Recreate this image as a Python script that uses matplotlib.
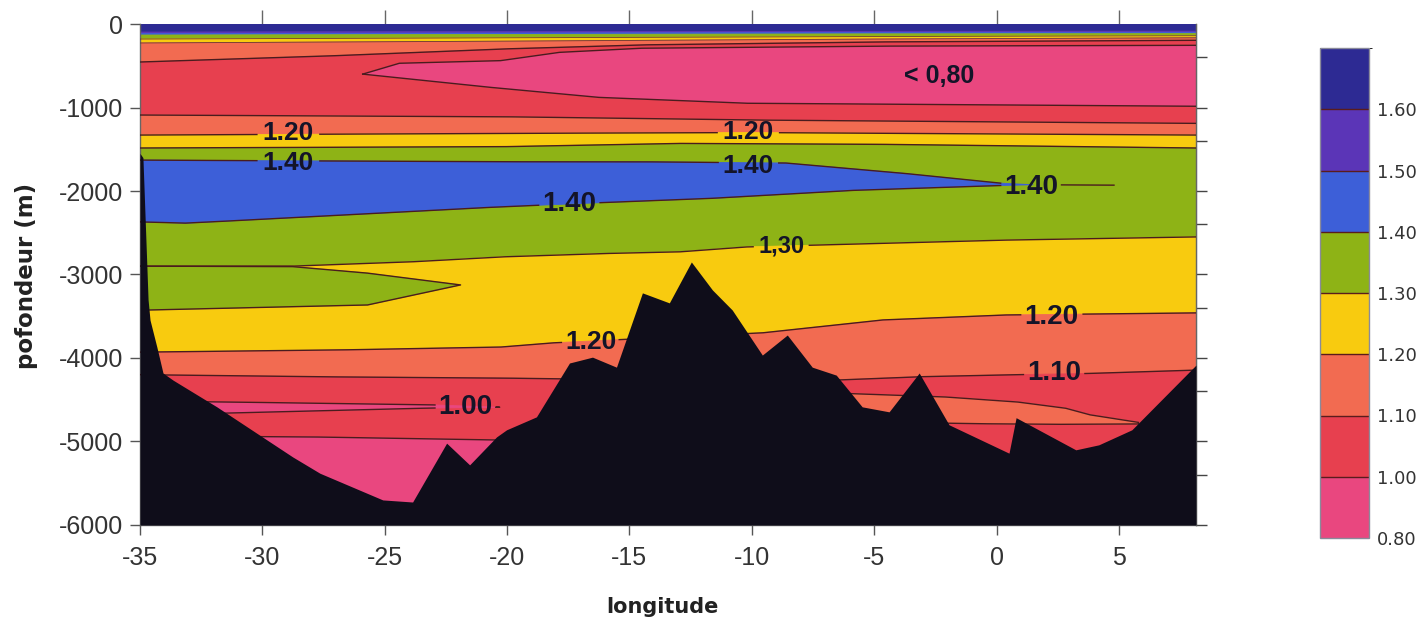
import numpy as np
import matplotlib
matplotlib.use("Agg")
import matplotlib.pyplot as plt
from matplotlib.colors import ListedColormap, BoundaryNorm
from matplotlib.cm import ScalarMappable

plt.rcParams["axes.unicode_minus"] = False
plt.rcParams["font.family"] = ["Liberation Sans", "DejaVu Sans"]

XMIN, XMAX = -35.0, 8.15
ZTOP, ZBOT = 0, -6000

# ---- colour classes -------------------------------------------------------
levels = [0.80, 1.00, 1.10, 1.20, 1.30, 1.40, 1.50, 1.60, 1.70]
level_labels = ["0.80", "1.00", "1.10", "1.20", "1.30", "1.40", "1.50", "1.60"]
class_colors = ["#e9477f", "#e7404f", "#f26b51", "#f8cb0f", "#8eb316",
                "#3d5fd8", "#5b35b7", "#2d2a93"]
PINK, RED, SALMON, YELLOW, GREEN, BLUE, PURPLE, NAVY = class_colors

# ---- axes ticks -----------------------------------------------------------
xticks = [-35, -30, -25, -20, -15, -10, -5, 0, 5]
top_ticks = [-30, -25, -20, -15, -10, -5, 0, 5]
yticks = [-6000, -5000, -4000, -3000, -2000, -1000, 0]
right_ticks = [-400, -1000, -1400, -2000, -2400, -3000, -3400,
               -4000, -4400, -5000, -5400, -6000]

# ---- isolines (longitude, depth in m) -----------------------------------
surf_lon = [-35, -20, -5, 8.15]
iso160_a = [-96, -92, -88, -85]
iso150_a = [-115, -108, -102, -100]
iso140_a = [-132, -125, -118, -115]
iso130_a = [-180, -165, -150, -140]
iso120_a = [-227, -205, -180, -165]

iso110_a_lon = [-35, -27.5, -20.3, -14.5, -5, 8.15]
iso110_a_dep = [-455, -385, -300, -250, -215, -195]

pink_top_lon = [-25.9, -24.4, -20.3, -17.9, -14.5, -5, 8.15]
pink_top_dep = [-600, -470, -440, -340, -290, -265, -255]
pink_bot_lon = [8.15, -4, -10.1, -16.2, -20.3, -25.9]
pink_bot_dep = [-985, -960, -950, -880, -770, -600]

iso110_b_lon = [-35, -20.3, -10, 8.15]
iso110_b_dep = [-1090, -1110, -1150, -1190]
iso120_b_lon = [-35, -20.3, -10, 8.15]
iso120_b_dep = [-1330, -1310, -1300, -1330]
iso130_b_lon = [-35, -20.3, -13, -5, 8.15]
iso130_b_dep = [-1485, -1470, -1430, -1440, -1485]

blue_top_lon = [-35, -20.3, -14.6, -8.6, -3.9, 0.1, 1.5]
blue_top_dep = [-1630, -1650, -1650, -1665, -1785, -1905, -1925]
blue_bot_lon = [1.5, 0.1, -5.7, -11.4, -16.2, -20.3, -28.1, -33.1, -35]
blue_bot_dep = [-1925, -1935, -1990, -2085, -2140, -2190, -2310, -2385, -2370]
blue_tail_lon = [1.5, 4.8]
blue_tail_dep = [-1925, -1930]

iso130_c_lon = [-35, -28.8, -24, -20.3, -16.2, -13, -10.2, 0, 8.15]
iso130_c_dep = [-2900, -2900, -2850, -2790, -2750, -2730, -2670, -2590, -2550]

gtongue_lon = [-35, -28.8, -25.8, -21.9, -25.7, -34.6, -35]
gtongue_dep = [-2900, -2905, -2980, -3125, -3365, -3425, -3425]

iso120_c_lon = [-35, -27.1, -20.3, -18.2, -14, -9.6, -4.7, 0.3, 8.15]
iso120_c_dep = [-3930, -3905, -3870, -3820, -3760, -3700, -3545, -3485, -3460]
iso110_c_lon = [-35, -27.8, -20.3, -18, -6.6, -3.2, 0.8, 3.8, 8.15]
iso110_c_dep = [-4200, -4225, -4240, -4250, -4265, -4225, -4200, -4185, -4145]

plens_top_lon = [-33.5, -32, -23.2, -20.3]
plens_top_dep = [-4520, -4525, -4560, -4590]
plens_bot_lon = [-20.3, -23.2, -31.3, -33.5]
plens_bot_dep = [-4590, -4600, -4660, -4670]

pdeep_lon = [-31.0, -28.1, -20.6, -19.5]
pdeep_dep = [-4940, -4945, -4980, -4990]

slens_top_lon = [-6.6, -2.2, 0.8, 2.8, 3.8, 5.8]
slens_top_dep = [-4420, -4465, -4525, -4600, -4680, -4770]
slens_bot_lon = [5.8, 3.0, 0.0, -2.0, -6.6]
slens_bot_dep = [-4790, -4795, -4790, -4780, -4780]

# ---- sea floor --------------------------------------------------------------
bathy_lon = [-35.0, -34.88, -34.67, -34.59, -34.31, -34.06, -33.65, -31.86,
             -29.82, -28.76, -27.65, -25.08, -23.86, -22.47, -21.53, -20.43,
             -20.02, -18.80, -17.45, -16.51, -15.53, -14.47, -13.37, -12.47,
             -11.61, -10.80, -9.57, -8.55, -7.53, -6.55, -5.49, -4.39, -3.16,
             -1.94, 0.51, 0.80, 3.24, 4.18, 5.53, 8.15]
bathy_dep = [-1550, -1600, -3300, -3545, -3870, -4180, -4265, -4585,
             -4980, -5185, -5380, -5700, -5725, -5020, -5280, -4945,
             -4860, -4705, -4060, -3990, -4110, -3220, -3340, -2850,
             -3185, -3425, -3965, -3725, -4110, -4205, -4585, -4645, -4180,
             -4800, -5140, -4715, -5100, -5040, -4860, -4085]

# ---- contour labels ---------------------------------------------------------
label_text = ["1.20", "1.40", "< 0,80", "1.20", "1.40", "1.40", "1.40",
              "1,30", "1.20", "1.20", "1.10", "1.00"]
label_lon = [-28.96, -28.96, -2.35, -10.14, -10.14, -17.45, 1.41,
             -8.80, -16.59, 2.22, 2.35, -21.69]
label_dep = [-1305, -1665, -623, -1290, -1700, -2156, -1952,
             -2659, -3808, -3509, -4180, -4587]
label_size = [19, 19, 18, 19, 19, 20, 20, 17, 19, 20, 20, 20]

# ---------------------------------------------------------------------------
fig = plt.figure(figsize=(14.27, 6.19), dpi=100)
ax = fig.add_axes([0.0981, 0.1519, 0.7400, 0.8093])
ax.set_xlim(XMIN, XMAX)
ax.set_ylim(ZBOT, ZTOP)


def poly(lons, deps, color):
    ax.fill(lons, deps, facecolor=color, edgecolor=color, lw=0.6, zorder=1)


def band(up_lon, up_dep, lo_lon, lo_dep, color):
    poly(list(up_lon) + list(lo_lon)[::-1], list(up_dep) + list(lo_dep)[::-1], color)


edge_lon = [XMIN, XMAX]
band(edge_lon, [ZTOP, ZTOP], surf_lon, iso160_a, NAVY)
band(surf_lon, iso160_a, surf_lon, iso150_a, PURPLE)
band(surf_lon, iso150_a, surf_lon, iso140_a, BLUE)
band(surf_lon, iso140_a, surf_lon, iso130_a, GREEN)
band(surf_lon, iso130_a, surf_lon, iso120_a, YELLOW)
band(surf_lon, iso120_a, iso110_a_lon, iso110_a_dep, SALMON)
band(iso110_a_lon, iso110_a_dep, iso110_b_lon, iso110_b_dep, RED)
poly(pink_top_lon + pink_bot_lon, pink_top_dep + pink_bot_dep, PINK)
band(iso110_b_lon, iso110_b_dep, iso120_b_lon, iso120_b_dep, SALMON)
band(iso120_b_lon, iso120_b_dep, iso130_b_lon, iso130_b_dep, YELLOW)
band(iso130_b_lon, iso130_b_dep, iso130_c_lon, iso130_c_dep, GREEN)
poly(blue_top_lon + blue_bot_lon, blue_top_dep + blue_bot_dep, BLUE)
band(iso130_c_lon, iso130_c_dep, iso120_c_lon, iso120_c_dep, YELLOW)
poly(gtongue_lon, gtongue_dep, GREEN)
band(iso120_c_lon, iso120_c_dep, iso110_c_lon, iso110_c_dep, SALMON)
band(iso110_c_lon, iso110_c_dep, edge_lon, [ZBOT, ZBOT], RED)
poly(plens_top_lon + plens_bot_lon, plens_top_dep + plens_bot_dep, PINK)
poly(pdeep_lon + [pdeep_lon[-1], pdeep_lon[0]], pdeep_dep + [ZBOT, ZBOT], PINK)
poly(slens_top_lon + slens_bot_lon, slens_top_dep + slens_bot_dep, SALMON)

# sea floor
ax.fill_between(bathy_lon, bathy_dep, ZBOT, color="#0f0d1a", lw=0, zorder=4)

# contour labels
texts = []
for s, lo, de, fs in zip(label_text, label_lon, label_dep, label_size):
    texts.append(ax.text(lo, de, s, ha="center", va="center", fontsize=fs,
                         fontweight="bold", color="#141428", zorder=6))

# axes cosmetics
ax.set_xticks(xticks)
ax.set_yticks(yticks)
ax.tick_params(axis="both", direction="out", length=7, width=1,
               color="#555555", labelsize=18, labelcolor="#333333")
ax.tick_params(axis="x", pad=8)
ax.tick_params(axis="y", pad=5)
for side in ("left", "bottom", "right"):
    ax.spines[side].set_color("#666666")
    ax.spines[side].set_linewidth(1)
ax.spines["top"].set_visible(False)

secx = ax.secondary_xaxis("top")
secx.set_xticks(top_ticks)
secx.set_xticklabels([])
secx.tick_params(direction="out", length=10, width=1, color="#666666")
secx.spines["top"].set_visible(False)

secy = ax.secondary_yaxis("right")
secy.set_yticks(right_ticks)
secy.set_yticklabels([])
secy.tick_params(direction="out", length=8, width=1, color="#444444")
secy.spines["right"].set_color("#333333")

fig.text(662 / 1427, 1 - 607 / 619, "longitude", ha="center", va="center",
         fontsize=15, fontweight="bold", color="#222222", family="DejaVu Sans")
fig.text(27 / 1427, 1 - 276 / 619, "pofondeur (m)", ha="center", va="center",
         rotation=90, fontsize=16.5, fontweight="bold", color="#222222",
         family="DejaVu Sans")

# colour bar
cax = fig.add_axes([1320 / 1427, 1 - 538 / 619, 49 / 1427, 490 / 619])
cmap = ListedColormap(class_colors)
norm = BoundaryNorm(levels, cmap.N)
cb = fig.colorbar(ScalarMappable(norm=norm, cmap=cmap), cax=cax,
                  spacing="uniform", ticks=levels[:-1], drawedges=True)
cb.ax.set_yticklabels(level_labels)
cb.ax.tick_params(length=0, labelsize=13, pad=6, labelcolor="#333333")
for t in cb.ax.get_yticklabels():
    t.set_family("DejaVu Sans")
cb.outline.set_edgecolor("#8a8a9a")
cb.outline.set_linewidth(1)
cb.dividers.set_color("#5a1c1c")
cb.dividers.set_linewidth(1)

# label boxes in data units, so the contour lines can break around them
fig.canvas.draw()
renderer = fig.canvas.get_renderer()
inv = ax.transData.inverted()
boxes = []
for t in texts:
    bb = t.get_window_extent(renderer)
    (x0, y0), (x1, y1) = inv.transform([[bb.x0 - 3, bb.y0 + 3], [bb.x1 + 3, bb.y1 - 3]])
    boxes.append((x0, x1, y0, y1))


def broken_line(lons, deps, n=80):
    xs, ys = [], []
    for i in range(len(lons) - 1):
        f = np.linspace(0.0, 1.0, n, endpoint=False)
        xs.extend(lons[i] + (lons[i + 1] - lons[i]) * f)
        ys.extend(deps[i] + (deps[i + 1] - deps[i]) * f)
    xs.append(lons[-1])
    ys.append(deps[-1])
    xs, ys = np.asarray(xs, float), np.asarray(ys, float)
    hide = np.zeros(xs.size, bool)
    for x0, x1, y0, y1 in boxes:
        hide |= (xs >= x0) & (xs <= x1) & (ys >= y0) & (ys <= y1)
    return xs, np.where(hide, np.nan, ys)


line_kw = dict(color="#4a1c1e", lw=1.0, zorder=3, solid_joinstyle="round")
thin_kw = dict(color="#6a3a30", lw=0.6, zorder=3)
for d in (iso130_a, iso120_a):
    ax.plot(surf_lon, d, **thin_kw)
for lo, de in [(iso110_a_lon, iso110_a_dep), (pink_top_lon, pink_top_dep),
               (pink_bot_lon, pink_bot_dep), (iso110_b_lon, iso110_b_dep),
               (iso120_b_lon, iso120_b_dep), (iso130_b_lon, iso130_b_dep),
               (blue_top_lon, blue_top_dep), (blue_bot_lon, blue_bot_dep),
               (blue_tail_lon, blue_tail_dep), (iso130_c_lon, iso130_c_dep),
               (gtongue_lon[:6], gtongue_dep[:6]), (iso120_c_lon, iso120_c_dep),
               (iso110_c_lon, iso110_c_dep),
               (plens_top_lon + plens_bot_lon, plens_top_dep + plens_bot_dep),
               (pdeep_lon, pdeep_dep),
               (slens_top_lon + slens_bot_lon, slens_top_dep + slens_bot_dep)]:
    ax.plot(*broken_line(lo, de), **line_kw)

fig.savefig("out.png", dpi=100)
